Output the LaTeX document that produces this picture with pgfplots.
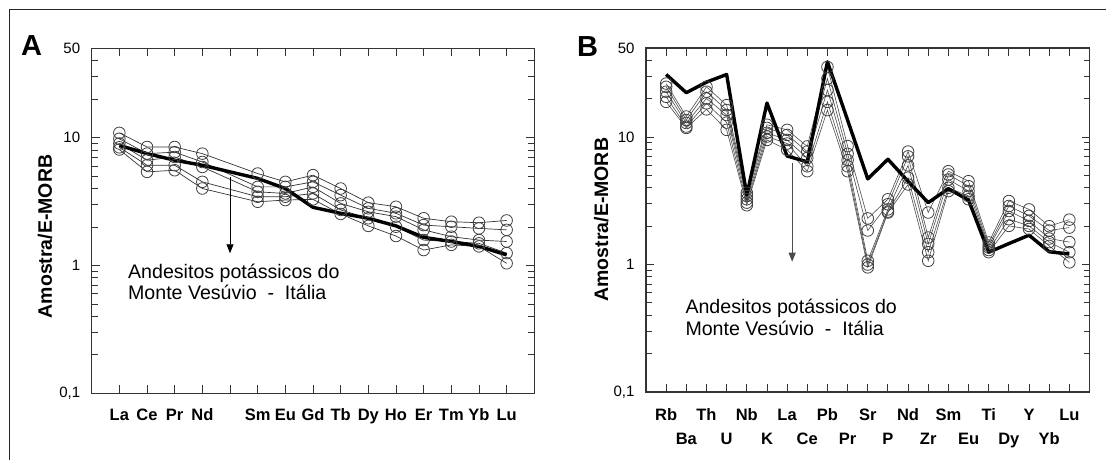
\documentclass[border=0pt]{standalone}
\usepackage{fontspec}
\setmainfont{Liberation Sans}
\usepackage{pgfplots}
\usepackage{pgfplotstable}
\pgfplotsset{compat=1.18}
\usetikzlibrary{arrows.meta}

\pgfplotstableread{
x s1 s2 s3 s4 s5
0 10.9 9.8 9.0 8.4 8.07
1 8.45 7.5 6.66 6.08 5.4
2 8.45 7.7 7.06 6.08 5.56
3 7.5 6.45 5.9 4.51 4.0
5 5.24 4.12 3.77 3.45 3.15
6 4.51 4.12 3.66 3.45 3.25
7 5.09 4.51 4.12 3.66 3.29
8 4.0 3.55 3.06 2.72 2.53
9 3.1 2.8 2.63 2.34 2.04
10 2.88 2.56 2.41 2.01 1.70
11 2.34 2.07 1.90 1.58 1.32
12 2.2 2.01 1.68 1.54 1.45
13 2.16 1.95 1.58 1.49 1.41
14 2.25 1.9 1.54 1.25 1.04
}\dataA

\pgfplotstableread{
x y
0 8.7
1 7.5
2 6.66
3 6.08
4 5.4
5 4.8
6 4.0
7 2.85
8 2.56
9 2.34
10 2.04
11 1.66
12 1.54
13 1.41
14 1.21
}\refA

\pgfplotstableread{
x s1 s2 s3 s4 s5
0 26.3 24.8 22.7 20.7 18.9
1 14.5 13.6 12.9 12.1 11.8
2 24.8 22.7 20.1 18.4 16.5
3 17.8 16.3 14.9 13.0 11.4
4 3.66 3.45 3.25 3.06 2.92
5 12.5 11.8 10.8 10.1 9.5
6 11.4 10.4 9.5 8.9 7.96
7 8.45 7.7 6.85 5.9 5.4
8 35.5 28.8 23.4 18.9 16.3
9 8.5 7.4 6.6 5.9 5.4
10 2.3 1.85 1.07 1.0 0.95
11 3.25 2.97 2.71 2.6 2.56
12 7.7 7.06 6.0 4.8 4.25
13 2.56 1.63 1.45 1.25 1.07
14 5.4 5.09 4.65 4.0 3.77
15 4.51 4.12 3.77 3.45 3.25
16 1.49 1.41 1.36 1.3 1.25
17 3.15 2.88 2.63 2.27 2.01
18 2.71 2.41 2.2 2.01 1.9
19 2.0 1.85 1.6 1.5 1.4
20 2.25 1.95 1.5 1.25 1.04
}\dataB

\pgfplotstableread{
x y
0 31
1 22.3
2 27
3 31
4 3.5
5 18.5
6 7.1
7 6.4
8 39
9 13.6
10 4.7
11 6.7
12 4.5
13 3.06
14 3.94
15 3.2
16 1.25
17 1.46
18 1.7
19 1.26
20 1.21
}\refB

\tikzset{
 samp/.style={color=black!80, line width=0.7pt, mark=o, mark size=5.8pt,
   mark options={line width=0.8pt, black!75}},
 thickref/.style={black, line width=3.4pt, mark=none, line join=round},
}

\begin{document}
\begin{tikzpicture}
\useasboundingbox (0,0) rectangle (1106pt,459pt);
\draw[line width=1.4pt, black!85] (9.3pt,-2pt) -- (9.3pt,449.5pt) -- (1110pt,449.5pt);

\node[anchor=base west, font=\fontsize{29}{32}\selectfont\bfseries, inner sep=0] at (21pt,403pt) {A};
\node[anchor=base west, font=\fontsize{29}{32}\selectfont\bfseries, inner sep=0] at (577pt,402pt) {B};

\begin{axis}[at={(91.7pt,65.7pt)}, anchor=south west, width=442.6pt, height=345pt,
  scale only axis, ymode=log, ymin=0.1, ymax=50,
  ytick={0.1,1,10,50}, yticklabels={{0,1},1,10,50},
  minor ytick={0.2,0.3,0.4,0.5,0.6,0.7,0.8,0.9,2,3,4,5,6,7,8,9,20,30,40},
  tick align=inside, major tick length=8pt, minor tick length=6pt,
  axis line style={line width=1.2pt, black!80},
  tick style={line width=0.9pt, black!80},
  yticklabel style={font=\fontsize{15}{17}\selectfont, xshift=-8pt},
  xticklabel style={font=\fontsize{16.5}{18}\selectfont\bfseries, anchor=base, yshift=-27pt},
  ylabel={Amostra/E-MORB},
  clip=false,
  xmin=-1, xmax=15, xtick={0,...,14},
  xticklabels={La,Ce,Pr,Nd,{},Sm,Eu,Gd,Tb,Dy,Ho,Er,Tm,Yb,Lu},
  ylabel style={font=\fontsize{19.5}{21}\selectfont\bfseries, at={(rel axis cs:-0.1055,0.4545)}, anchor=center},
  /pgf/number format/assume math mode=true]
\addplot[samp] table[x=x,y=s1]{\dataA};
\addplot[samp] table[x=x,y=s2]{\dataA};
\addplot[samp] table[x=x,y=s3]{\dataA};
\addplot[samp] table[x=x,y=s4]{\dataA};
\addplot[samp] table[x=x,y=s5]{\dataA};
\addplot[thickref] table[x=x,y=y]{\refA};
\draw[black, line width=0.8pt, -{Triangle[length=9pt,width=7pt]}] (axis cs:4,4.9) -- (axis cs:4,1.246);
\node[anchor=base west, inner sep=0, font=\fontsize{19.6}{22}\selectfont] at (axis cs:0.31,0.794) {Andesitos potássicos do};
\node[anchor=base west, inner sep=0, font=\fontsize{19.6}{22}\selectfont] at (axis cs:0.31,0.537) {Monte Vesúvio\ \ -\ \ Itália};
\end{axis}

\begin{axis}[at={(646pt,67pt)}, anchor=south west, width=443.5pt, height=344pt,
  scale only axis, ymode=log, ymin=0.1, ymax=50,
  ytick={0.1,1,10,50}, yticklabels={{0,1},1,10,50},
  minor ytick={0.2,0.3,0.4,0.5,0.6,0.7,0.8,0.9,2,3,4,5,6,7,8,9,20,30,40},
  tick align=inside, major tick length=8pt, minor tick length=6pt,
  axis line style={line width=1.2pt, black!80},
  tick style={line width=0.9pt, black!80},
  yticklabel style={font=\fontsize{15}{17}\selectfont, xshift=-8pt},
  xticklabel style={font=\fontsize{16.5}{18}\selectfont\bfseries, anchor=base, yshift=-28.5pt},
  ylabel={Amostra/E-MORB},
  clip=false,
  xmin=-1, xmax=21, xtick={0,2,...,20},
  xticklabels={Rb,Th,Nb,La,Pb,Sr,Nd,Sm,Ti,Y,Lu},
  extra x ticks={1,3,...,19},
  extra x tick labels={Ba,U,K,Ce,Pr,P,Zr,Eu,Dy,Yb},
  extra x tick style={xticklabel style={yshift=-24pt}},
  ylabel style={font=\fontsize{19.5}{21}\selectfont\bfseries, at={(rel axis cs:-0.101,0.501)}, anchor=center},
  /pgf/number format/assume math mode=true]
\addplot[samp, line width=0.6pt, black!70] table[x=x,y=s1]{\dataB};
\addplot[samp, line width=0.6pt, black!70] table[x=x,y=s2]{\dataB};
\addplot[samp, line width=0.6pt, black!70] table[x=x,y=s3]{\dataB};
\addplot[samp, line width=0.6pt, black!70] table[x=x,y=s4]{\dataB};
\addplot[samp, line width=0.6pt, black!70] table[x=x,y=s5]{\dataB};
\addplot[thickref] table[x=x,y=y]{\refB};
\draw[black!70, line width=0.9pt, -{Triangle[length=9pt,width=7pt]}] (axis cs:6.25,6.3) -- (axis cs:6.25,1.052);
\node[anchor=base west, inner sep=0, font=\fontsize{19.6}{22}\selectfont] at (axis cs:0.95,0.415) {Andesitos potássicos do};
\node[anchor=base west, inner sep=0, font=\fontsize{19.6}{22}\selectfont] at (axis cs:0.95,0.2757) {Monte Vesúvio\ \ -\ \ Itália};
\end{axis}
\end{tikzpicture}
\end{document}
